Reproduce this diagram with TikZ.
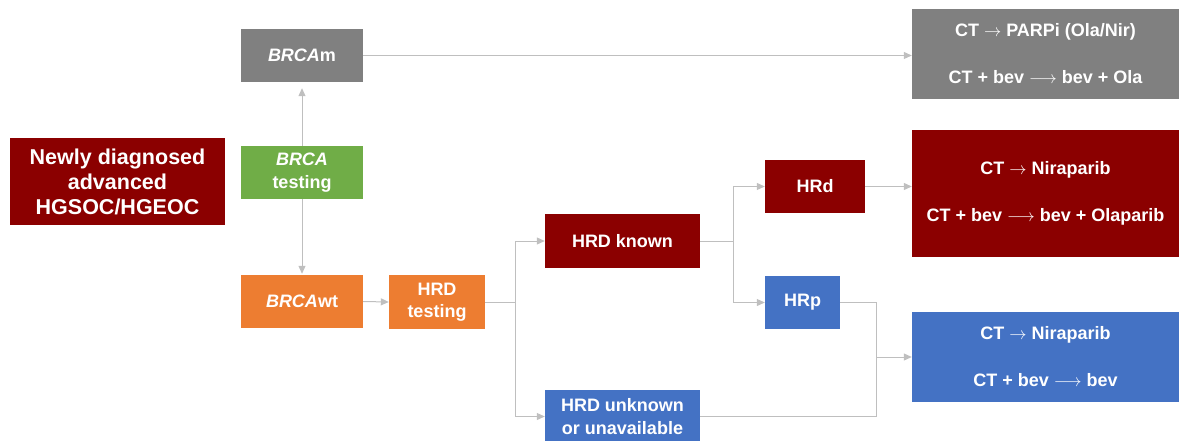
\documentclass[tikz,border=0pt]{standalone}
\usepackage{fontspec}
\setmainfont{Liberation Sans}
\usetikzlibrary{arrows.meta}
\definecolor{dred}{HTML}{8B0000}
\definecolor{mgray}{HTML}{808080}
\definecolor{mgreen}{HTML}{70AD47}
\definecolor{morange}{HTML}{ED7D31}
\definecolor{mblue}{HTML}{4472C4}
\definecolor{lgray}{HTML}{BFBFBF}
\tikzset{
  box/.style={rectangle, inner sep=0pt, text=white, align=center,
    font=\fontsize{18}{22.5}\selectfont\bfseries},
  outbox/.style={box, minimum width=267pt, font=\fontsize{18}{47}\selectfont\bfseries},
  conn/.style={draw=lgray, line width=1pt},
  arr/.style={conn, -{Triangle[length=8pt,width=7pt]}},
}
\begin{document}
\begin{tikzpicture}[x=1pt,y=-1pt]
\useasboundingbox (0,0) rectangle (1179,441);
% boxes
\node[box, fill=dred, minimum width=215pt, minimum height=87pt,
  font=\fontsize{21.5}{25}\selectfont\bfseries] (new) at (117.5,181.5)
  {Newly diagnosed\\advanced\\HGSOC/HGEOC};
\node[box, fill=mgray, minimum width=122pt, minimum height=53pt] (brcam) at (302,55.5) {\textit{BRCA}m};
\node[box, fill=mgreen, minimum width=122pt, minimum height=53pt] (brcat) at (302,172.5) {\textit{BRCA}\\testing};
\node[box, fill=morange, minimum width=122pt, minimum height=53pt] (brcawt) at (302,301.5) {\textit{BRCA}wt};
\node[box, fill=morange, minimum width=96pt, minimum height=54pt] (hrdt) at (437,302) {HRD\\testing};
\node[box, fill=dred, minimum width=155pt, minimum height=54pt] (hrdk) at (622.5,241) {HRD known};
\node[box, fill=mblue, minimum width=155pt, minimum height=53pt] (hrdu) at (622.5,416.5) {HRD unknown\\or unavailable};
\node[box, fill=dred, minimum width=100pt, minimum height=53pt] (hrd) at (815,186.5) {HRd};
\node[box, fill=mblue, minimum width=75pt, minimum height=53pt] (hrp) at (802.5,302.5) {HRp};
\node[outbox, fill=mgray, minimum height=90pt] (outg) at (1045.5,54)
  {CT $\rightarrow$ PARPi (Ola/Nir)\\CT + bev $\longrightarrow$ bev + Ola};
\node[outbox, fill=dred, minimum height=127pt] (outr) at (1045.5,193.5)
  {CT $\rightarrow$ Niraparib\\CT + bev $\longrightarrow$ bev + Olaparib};
\node[outbox, fill=mblue, minimum height=90pt] (outb) at (1045.5,357)
  {CT $\rightarrow$ Niraparib\\CT + bev $\longrightarrow$ bev};
% connectors
\draw[arr, shorten >=6pt] (brcat.north) -- (brcam.south);
\draw[arr, shorten >=1pt] (brcat.south) -- (brcawt.north);
\draw[arr] (brcam.east) -- (brcam.east -| outg.west);
\draw[arr] (brcawt.east) -- (hrdt.west);
\coordinate (j1) at ([xshift=30pt]hrdt.east);
\draw[conn] (hrdt.east) -- (j1);
\draw[arr] (j1) |- (hrdk.west);
\draw[arr] (j1) |- (hrdu.west);
\coordinate (j2) at ([xshift=33pt]hrdk.east);
\draw[conn] (hrdk.east) -- (j2);
\draw[arr] (j2) |- (hrd.west);
\draw[arr] (j2) |- (hrp.west);
\draw[arr] (hrd.east) -- (hrd.east -| outr.west);
\coordinate (j3) at ([xshift=36pt]hrp.east |- outb.west);
\draw[conn] (hrp.east) -| (j3);
\draw[conn] (hrdu.east) -| (j3);
\draw[arr] (j3) -- (outb.west);
\end{tikzpicture}
\end{document}
